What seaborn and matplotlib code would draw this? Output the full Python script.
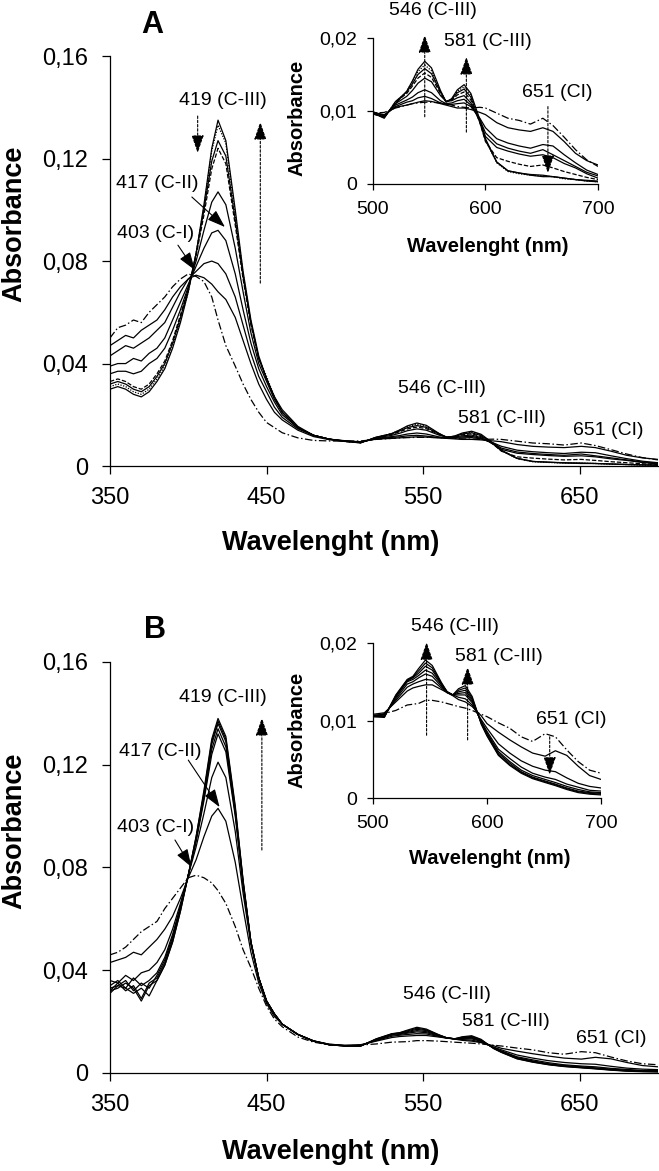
import matplotlib
matplotlib.use("Agg")
import matplotlib.pyplot as plt
import seaborn as sns

# ---------------- data ----------------
WAVELENGTH = [350, 355, 360, 365, 370, 375, 380, 385, 390, 395, 400, 405, 410, 415,
              419, 424, 430, 435, 440, 445, 450, 455, 460, 470, 480, 490,
              500, 510, 520, 530, 535, 540, 546, 552, 560, 565, 570, 575, 581, 587,
              595, 600, 610, 620, 630, 640, 651, 660, 670, 680, 690, 700]

# Panel A spectra (initial dash-dot -> final)
A_C0 = [0.050, 0.054, 0.055, 0.057, 0.056, 0.060, 0.063, 0.066, 0.070, 0.073, 0.075, 0.074, 0.072, 0.066,
        0.057, 0.047, 0.039, 0.032, 0.026, 0.021, 0.017, 0.015, 0.013, 0.011, 0.0100, 0.0098,
        0.0097, 0.0098, 0.0104, 0.0108, 0.0110, 0.0111, 0.0112, 0.0112, 0.0111, 0.0110, 0.0108, 0.0106, 0.0105, 0.0104,
        0.0105, 0.0104, 0.0097, 0.0090, 0.0087, 0.0082, 0.0090, 0.0080, 0.0064, 0.0047, 0.0033, 0.0024]
A_C1 = [0.047, 0.049, 0.051, 0.050, 0.053, 0.055, 0.057, 0.061, 0.066, 0.070, 0.073, 0.0745, 0.0735, 0.071,
        0.068, 0.065, 0.058, 0.049, 0.040, 0.032, 0.026, 0.021, 0.018, 0.014, 0.0115, 0.0103,
        0.0098, 0.0095, 0.0105, 0.0108, 0.0110, 0.0112, 0.0114, 0.0113, 0.0110, 0.0108, 0.0106, 0.0104, 0.0104, 0.0102,
        0.0098, 0.0095, 0.0084, 0.0077, 0.0074, 0.0072, 0.0077, 0.0072, 0.0058, 0.0042, 0.0032, 0.0026]
A_C2 = [0.043, 0.045, 0.047, 0.046, 0.048, 0.050, 0.053, 0.056, 0.062, 0.068, 0.073, 0.076, 0.079, 0.080,
        0.079, 0.075, 0.066, 0.055, 0.044, 0.035, 0.029, 0.023, 0.019, 0.0145, 0.012, 0.0105,
        0.0098, 0.0094, 0.0106, 0.0112, 0.0114, 0.0118, 0.0120, 0.0117, 0.0111, 0.0109, 0.0109, 0.0110, 0.0111, 0.0106,
        0.0090, 0.0077, 0.0062, 0.0056, 0.0052, 0.0049, 0.0054, 0.0052, 0.0040, 0.0029, 0.0019, 0.0013]
A_C3 = [0.039, 0.040, 0.040, 0.042, 0.041, 0.044, 0.046, 0.050, 0.057, 0.064, 0.071, 0.078, 0.085, 0.091,
        0.092, 0.088, 0.075, 0.061, 0.048, 0.038, 0.031, 0.025, 0.020, 0.015, 0.012, 0.0105,
        0.0099, 0.0093, 0.0108, 0.0115, 0.0119, 0.0125, 0.0129, 0.0125, 0.0114, 0.0110, 0.0111, 0.0114, 0.0116, 0.0108,
        0.0088, 0.0070, 0.0055, 0.0049, 0.0045, 0.0042, 0.0047, 0.0040, 0.0032, 0.0024, 0.0016, 0.0011]
A_C4 = [0.036, 0.037, 0.037, 0.036, 0.037, 0.040, 0.042, 0.046, 0.053, 0.061, 0.070, 0.080, 0.092, 0.103,
        0.107, 0.102, 0.085, 0.068, 0.052, 0.040, 0.033, 0.026, 0.021, 0.015, 0.012, 0.0105,
        0.0097, 0.0092, 0.0110, 0.0120, 0.0128, 0.0138, 0.0145, 0.0140, 0.0121, 0.0113, 0.0114, 0.0118, 0.0121, 0.0111,
        0.0086, 0.0065, 0.0050, 0.0045, 0.0041, 0.0038, 0.0040, 0.0036, 0.0028, 0.0022, 0.0014, 0.0008]
A_C5 = [0.033, 0.034, 0.033, 0.031, 0.030, 0.032, 0.036, 0.041, 0.049, 0.059, 0.069, 0.082, 0.098, 0.116,
        0.124, 0.118, 0.094, 0.073, 0.055, 0.042, 0.034, 0.027, 0.021, 0.015, 0.012, 0.0105,
        0.0096, 0.0091, 0.0112, 0.0124, 0.0134, 0.0145, 0.0152, 0.0146, 0.0124, 0.0113, 0.0115, 0.0122, 0.0126, 0.0115,
        0.0084, 0.0058, 0.0036, 0.0031, 0.0027, 0.0024, 0.0026, 0.0022, 0.0017, 0.0013, 0.0009, 0.0006]
A_C6 = [0.032, 0.033, 0.032, 0.030, 0.029, 0.031, 0.035, 0.040, 0.048, 0.058, 0.069, 0.083, 0.100, 0.119,
        0.127, 0.121, 0.096, 0.074, 0.056, 0.042, 0.034, 0.027, 0.021, 0.015, 0.012, 0.0105,
        0.0097, 0.0090, 0.0113, 0.0126, 0.0137, 0.0150, 0.0158, 0.0151, 0.0126, 0.0113, 0.0116, 0.0125, 0.0130, 0.0119,
        0.0084, 0.0060, 0.0030, 0.0018, 0.0015, 0.0013, 0.0012, 0.0010, 0.0008, 0.0006, 0.0004, 0.0003]
A_C7 = [0.031, 0.032, 0.031, 0.029, 0.028, 0.030, 0.034, 0.039, 0.047, 0.057, 0.068, 0.083, 0.101, 0.123,
        0.133, 0.126, 0.098, 0.075, 0.056, 0.042, 0.035, 0.027, 0.021, 0.015, 0.012, 0.0105,
        0.0096, 0.0091, 0.0112, 0.0127, 0.0140, 0.0154, 0.0163, 0.0155, 0.0127, 0.0112, 0.0116, 0.0127, 0.0133, 0.0122,
        0.0086, 0.0060, 0.0029, 0.0017, 0.0014, 0.0012, 0.0011, 0.0010, 0.0007, 0.0006, 0.0004, 0.0003]
A_C8 = [0.030, 0.031, 0.030, 0.028, 0.027, 0.029, 0.033, 0.038, 0.046, 0.056, 0.068, 0.083, 0.102, 0.124,
        0.135, 0.127, 0.100, 0.076, 0.057, 0.043, 0.034, 0.027, 0.022, 0.0155, 0.012, 0.0105,
        0.0096, 0.0092, 0.0110, 0.0127, 0.0141, 0.0157, 0.0168, 0.0159, 0.0128, 0.0112, 0.0117, 0.0129, 0.0136, 0.0124,
        0.0088, 0.0062, 0.0030, 0.0018, 0.0015, 0.0012, 0.0010, 0.0010, 0.0008, 0.0006, 0.0005, 0.0004]

# Panel B spectra
B_C0 = [0.046, 0.047, 0.049, 0.052, 0.055, 0.057, 0.059, 0.064, 0.068, 0.072, 0.076, 0.077, 0.076, 0.074,
        0.071, 0.066, 0.057, 0.048, 0.041, 0.033, 0.026, 0.021, 0.018, 0.014, 0.012, 0.011,
        0.0105, 0.0109, 0.0113, 0.0120, 0.0121, 0.0122, 0.0126, 0.0126, 0.0124, 0.0122, 0.0120, 0.0118, 0.0116, 0.0113,
        0.0108, 0.0105, 0.0097, 0.0090, 0.0079, 0.0073, 0.0083, 0.0079, 0.0062, 0.0047, 0.0036, 0.0032]
B_C1 = [0.043, 0.044, 0.045, 0.047, 0.046, 0.049, 0.052, 0.056, 0.061, 0.068, 0.076, 0.083, 0.092, 0.100,
        0.103, 0.098, 0.082, 0.064, 0.047, 0.035, 0.027, 0.022, 0.019, 0.015, 0.0125, 0.0112,
        0.0108, 0.0110, 0.0124, 0.0138, 0.0142, 0.0144, 0.0146, 0.0146, 0.0140, 0.0136, 0.0132, 0.0127, 0.0124, 0.0118,
        0.0106, 0.0096, 0.0085, 0.0075, 0.0066, 0.0058, 0.0054, 0.0061, 0.0055, 0.0041, 0.0029, 0.0024]
B_C2 = [0.036, 0.035, 0.038, 0.036, 0.039, 0.040, 0.043, 0.048, 0.056, 0.066, 0.077, 0.088, 0.101, 0.115,
        0.121, 0.115, 0.094, 0.070, 0.050, 0.037, 0.028, 0.023, 0.019, 0.015, 0.0125, 0.0112,
        0.0107, 0.0108, 0.0126, 0.0143, 0.0147, 0.0150, 0.0153, 0.0152, 0.0142, 0.0136, 0.0133, 0.0130, 0.0128, 0.0120,
        0.0101, 0.0090, 0.0070, 0.0058, 0.0048, 0.0041, 0.0036, 0.0034, 0.0026, 0.0019, 0.0015, 0.0013]
B_C3 = [0.034, 0.036, 0.033, 0.037, 0.034, 0.036, 0.039, 0.045, 0.054, 0.065, 0.077, 0.090, 0.106, 0.124,
        0.132, 0.125, 0.100, 0.073, 0.051, 0.037, 0.028, 0.023, 0.019, 0.015, 0.0125, 0.011,
        0.0106, 0.0107, 0.0128, 0.0147, 0.0150, 0.0155, 0.0160, 0.0157, 0.0144, 0.0136, 0.0133, 0.0133, 0.0133, 0.0123,
        0.0099, 0.0086, 0.0063, 0.0051, 0.0040, 0.0032, 0.0027, 0.0024, 0.0018, 0.0014, 0.0010, 0.0009]
B_C4 = [0.033, 0.034, 0.036, 0.032, 0.035, 0.033, 0.038, 0.044, 0.053, 0.064, 0.077, 0.091, 0.107, 0.126,
        0.134, 0.127, 0.101, 0.074, 0.051, 0.037, 0.028, 0.023, 0.019, 0.015, 0.0124, 0.011,
        0.0106, 0.0106, 0.0130, 0.0150, 0.0153, 0.0158, 0.0165, 0.0161, 0.0146, 0.0137, 0.0133, 0.0135, 0.0136, 0.0125,
        0.0098, 0.0084, 0.0060, 0.0047, 0.0036, 0.0029, 0.0024, 0.0020, 0.0015, 0.0011, 0.0008, 0.0007]
B_C5 = [0.032, 0.035, 0.032, 0.034, 0.029, 0.035, 0.037, 0.043, 0.052, 0.064, 0.077, 0.091, 0.108, 0.128,
        0.136, 0.129, 0.102, 0.074, 0.051, 0.037, 0.028, 0.023, 0.019, 0.015, 0.0124, 0.011,
        0.0106, 0.0105, 0.0131, 0.0151, 0.0155, 0.0161, 0.0170, 0.0165, 0.0147, 0.0137, 0.0133, 0.0137, 0.0139, 0.0127,
        0.0097, 0.0082, 0.0058, 0.0045, 0.0034, 0.0027, 0.0022, 0.0018, 0.0013, 0.0009, 0.0007, 0.0006]
B_C6 = [0.031, 0.034, 0.033, 0.031, 0.033, 0.030, 0.036, 0.042, 0.051, 0.063, 0.077, 0.092, 0.109, 0.129,
        0.137, 0.130, 0.103, 0.075, 0.051, 0.037, 0.028, 0.023, 0.019, 0.015, 0.0124, 0.011,
        0.0105, 0.0105, 0.0132, 0.0152, 0.0156, 0.0164, 0.0174, 0.0168, 0.0148, 0.0137, 0.0133, 0.0139, 0.0142, 0.0129,
        0.0096, 0.0081, 0.0056, 0.0043, 0.0033, 0.0026, 0.0021, 0.0017, 0.0012, 0.0008, 0.0006, 0.0005]
B_C7 = [0.032, 0.033, 0.035, 0.033, 0.028, 0.034, 0.036, 0.042, 0.051, 0.063, 0.077, 0.092, 0.110, 0.130,
        0.138, 0.131, 0.104, 0.075, 0.051, 0.037, 0.028, 0.023, 0.019, 0.015, 0.0124, 0.011,
        0.0105, 0.0104, 0.0133, 0.0153, 0.0157, 0.0167, 0.0178, 0.0171, 0.0149, 0.0137, 0.0133, 0.0141, 0.0145, 0.0131,
        0.0095, 0.0080, 0.0055, 0.0042, 0.0032, 0.0025, 0.0020, 0.0016, 0.0011, 0.0007, 0.0005, 0.0004]

A_CURVES = [A_C0, A_C1, A_C2, A_C3, A_C4, A_C5, A_C6, A_C7, A_C8]
B_CURVES = [B_C0, B_C1, B_C2, B_C3, B_C4, B_C5, B_C6, B_C7]

MAIN_XTICKS = [350, 450, 550, 650]
MAIN_YTICKS = [0, 0.04, 0.08, 0.12, 0.16]
MAIN_YTICK_LABELS = ["0", "0,04", "0,08", "0,12", "0,16"]
INSET_XTICKS = [500, 600, 700]
INSET_YTICKS = [0, 0.01, 0.02]
INSET_YTICK_LABELS = ["0", "0,01", "0,02"]

XLABEL = "Wavelenght (nm)"
YLABEL = "Absorbance"

# ---------------- styles ----------------
DASHDOT = (0, (6, 2, 1.2, 2))
DASHED = (0, (3.5, 1.5))
DOTTED = (0, (1, 1.2))
A_STYLES = [DASHDOT, "-", "-", "-", "-", DASHED, "-", DOTTED, "-"]
B_STYLES = [DASHDOT, "-", "-", "-", "-", "-", "-", "-"]

sns.set_style("ticks")
plt.rcParams["font.family"] = ["Liberation Sans", "DejaVu Sans"]
plt.rcParams["axes.linewidth"] = 0.9
for key in ("text.color", "axes.labelcolor", "xtick.color", "ytick.color", "axes.edgecolor"):
    plt.rcParams[key] = "black"

fig = plt.figure(figsize=(6.59, 11.71), dpi=100)

ax_a = fig.add_axes([0.1669, 0.6020, 0.8316, 0.3501])
ax_b = fig.add_axes([0.1669, 0.0837, 0.8316, 0.3510])
in_a = fig.add_axes([0.5660, 0.8429, 0.3414, 0.1247])
in_b = fig.add_axes([0.5660, 0.3185, 0.3460, 0.1324])
for a in (in_a, in_b):
    a.set_facecolor("none")


def draw_curves(ax, curves, styles, lw):
    for vals, ls in zip(curves, styles):
        sns.lineplot(x=WAVELENGTH, y=vals, ax=ax, color="black", lw=lw,
                     linestyle=ls, estimator=None, sort=False, legend=False)


def style_main(ax, xlab_y, ylab_y):
    ax.set_xlim(350, 700)
    ax.set_ylim(0, 0.16)
    ax.set_xticks(MAIN_XTICKS)
    ax.set_yticks(MAIN_YTICKS)
    ax.set_yticklabels(MAIN_YTICK_LABELS)
    ax.tick_params(axis="both", labelsize=17, length=5.5, width=0.9, direction="out",
                   color="black", labelcolor="black")
    ax.tick_params(axis="y", pad=10.5)
    ax.tick_params(axis="x", pad=9.5)
    sns.despine(ax=ax)
    ax.set_xlabel(XLABEL, fontsize=19.5, fontweight="bold", va="center", color="black")
    ax.set_ylabel(YLABEL, fontsize=19.5, fontweight="bold", va="center", color="black")
    ax.xaxis.set_label_coords(0.403, xlab_y)
    ax.yaxis.set_label_coords(-0.175, ylab_y)


def style_inset(ax, xlab_y, ylab_x, ylab_y):
    ax.set_xlim(500, 700)
    ax.set_ylim(0, 0.02)
    ax.set_xticks(INSET_XTICKS)
    ax.set_yticks(INSET_YTICKS)
    ax.set_yticklabels(INSET_YTICK_LABELS)
    ax.tick_params(axis="both", labelsize=14, length=4.5, width=0.9, direction="out",
                   color="black", labelcolor="black")
    ax.tick_params(axis="y", pad=7)
    ax.tick_params(axis="x", pad=7.5)
    sns.despine(ax=ax)
    ax.set_xlabel(XLABEL, fontsize=14.5, fontweight="bold", va="center", color="black")
    ax.set_ylabel(YLABEL, fontsize=14.5, fontweight="bold", va="center", color="black")
    ax.xaxis.set_label_coords(0.51, xlab_y)
    ax.yaxis.set_label_coords(ylab_x, ylab_y)


def arrow(ax, x0, y0, x1, y1, dashed):
    ls = (0, (2.2, 1.6)) if dashed else "-"
    ax.annotate("", xy=(x1, y1), xytext=(x0, y0),
                arrowprops=dict(arrowstyle="-|>,head_length=1.1,head_width=0.38",
                                color="black", lw=0.8, linestyle=ls,
                                shrinkA=0, shrinkB=0),
                annotation_clip=False)


def label(ax, x, y, s, size=14):
    ax.text(x, y, s, ha="center", va="center", fontsize=size, color="black")


# ---------------- panel A ----------------
draw_curves(ax_a, A_CURVES, A_STYLES, 0.9)
style_main(ax_a, -0.188, 0.59)
label(ax_a, 422, 0.1428, "419 (C-III)")
label(ax_a, 380, 0.1104, "417 (C-II)")
label(ax_a, 379, 0.0909, "403 (C-I)")
label(ax_a, 562, 0.0304, "546 (C-III)")
label(ax_a, 600, 0.0187, "581 (C-III)")
label(ax_a, 668, 0.0140, "651 (CI)")
arrow(ax_a, 406, 0.1366, 406, 0.1222, True)
arrow(ax_a, 446, 0.0714, 446, 0.1343, True)
arrow(ax_a, 402.3, 0.1050, 423.4, 0.0933, False)
arrow(ax_a, 393.4, 0.0862, 404.2, 0.0765, False)

draw_curves(in_a, A_CURVES, A_STYLES, 0.9)
style_inset(in_a, -0.43, -0.338, 0.452)
label(in_a, 553, 0.0238, "546 (C-III)")
label(in_a, 602, 0.0195, "581 (C-III)")
label(in_a, 664, 0.0125, "651 (CI)")
arrow(in_a, 546, 0.0092, 546, 0.0204, True)
arrow(in_a, 583, 0.0071, 583, 0.0174, True)
arrow(in_a, 655.5, 0.0106, 655.5, 0.0015, True)

fig.text(0.2307, 0.9787, "A", ha="center", va="center", fontsize=22, fontweight="bold")

# ---------------- panel B ----------------
draw_curves(ax_b, B_CURVES, B_STYLES, 0.9)
style_main(ax_b, -0.192, 0.589)
label(ax_b, 422, 0.1460, "419 (C-III)")
label(ax_b, 382, 0.1250, "417 (C-II)")
label(ax_b, 379, 0.0954, "403 (C-I)")
label(ax_b, 565, 0.0304, "546 (C-III)")
label(ax_b, 603, 0.0199, "581 (C-III)")
label(ax_b, 670, 0.0136, "651 (CI)")
arrow(ax_b, 447, 0.0868, 447, 0.1382, True)
arrow(ax_b, 400, 0.1218, 420, 0.1035, False)
arrow(ax_b, 391.5, 0.0907, 402, 0.0802, False)

draw_curves(in_b, B_CURVES, B_STYLES, 0.9)
style_inset(in_b, -0.387, -0.333, 0.439)
label(in_b, 572, 0.0221, "546 (C-III)")
label(in_b, 610, 0.0182, "581 (C-III)")
label(in_b, 674, 0.0101, "651 (CI)")
arrow(in_b, 547, 0.0081, 547, 0.0201, True)
arrow(in_b, 583, 0.0075, 583, 0.0169, True)
arrow(in_b, 655, 0.0079, 655, 0.0030, True)

fig.text(0.2352, 0.4620, "B", ha="center", va="center", fontsize=22, fontweight="bold")

fig.savefig("out.png", dpi=100)
